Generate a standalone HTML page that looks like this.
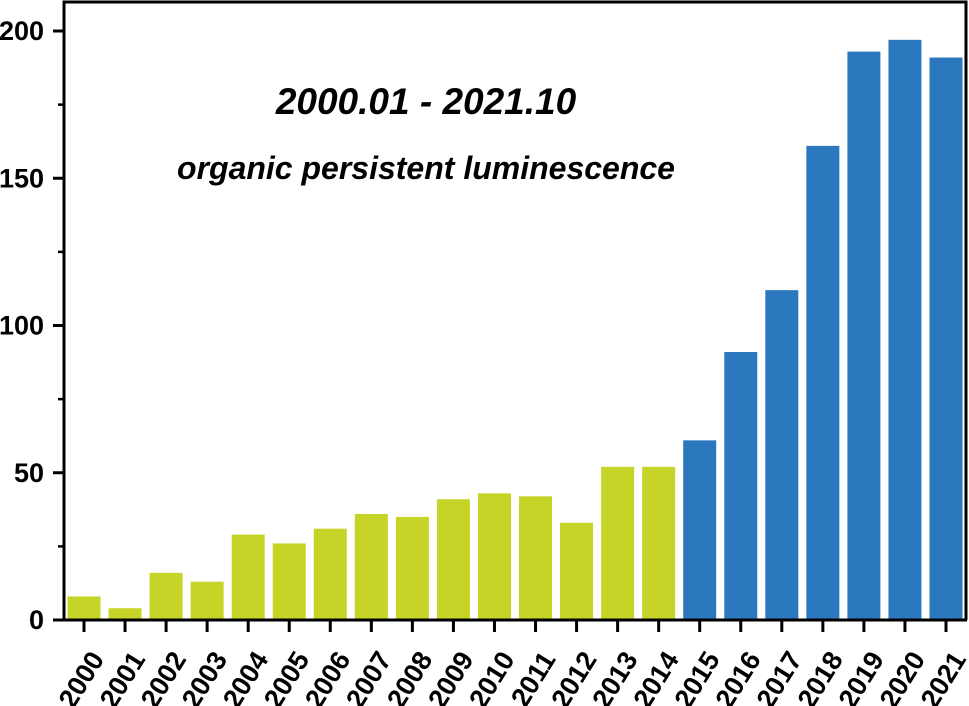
<!DOCTYPE html>
<html><head><meta charset="utf-8"><style>
html,body{margin:0;padding:0;background:#fff;}
svg{display:block;font-family:"Liberation Sans",Arial,sans-serif;}
</style></head><body>
<svg id="chart" width="969" height="706" viewBox="0 0 969 706">
<text x="426" y="114" font-size="37" font-weight="bold" font-style="italic" text-anchor="middle">2000.01 - 2021.10</text>
<text x="426" y="179" font-size="32" font-weight="bold" font-style="italic" text-anchor="middle">organic persistent luminescence</text>
<g id="bars"></g>
<g id="axes"></g>
</svg>
<script>
const years = ["2000","2001","2002","2003","2004","2005","2006","2007","2008","2009","2010","2011","2012","2013","2014","2015","2016","2017","2018","2019","2020","2021"];
const counts = [8,4,16,13,29,26,31,36,35,41,43,42,33,52,52,61,91,112,161,193,197,191];
const yTicks = [0,50,100,150,200];
const yMinorTicks = [25,75,125,175];
const splitYear = "2015";

const NS = "http://www.w3.org/2000/svg";
const plotLeft = 64, plotRight = 966, plotTop = 2, y0 = 620, yMaxPx = 31, yMaxVal = 200;
const yScale = v => y0 - (v / yMaxVal) * (y0 - yMaxPx);
const firstC = 84, lastC = 946;
const step = (lastC - firstC) / (years.length - 1);
const xScale = i => firstC + i * step;
const bw = 33;
const barsG = document.getElementById('bars');
const axesG = document.getElementById('axes');
function mk(tag, attrs, parent){const e=document.createElementNS(NS,tag);for(const k in attrs)e.setAttribute(k,attrs[k]);parent.appendChild(e);return e;}

const splitIdx = years.indexOf(splitYear);
counts.forEach((v,i)=>{
  const r = mk('rect',{x:xScale(i)-bw/2,y:yScale(v),width:bw,height:y0-yScale(v),fill:i>=splitIdx?'#2b78bf':'#c5d426'},barsG);
  
  
});

const frame = mk('path',{d:`M${plotLeft},${y0} L${plotLeft},${plotTop} L${plotRight},${plotTop} L${plotRight},${y0}`,fill:'none',stroke:'#000','stroke-width':3},axesG);


const xAxis = mk('line',{x1:plotLeft-11,y1:y0,x2:plotRight+1,y2:y0,stroke:'#000','stroke-width':3},axesG);



yTicks.forEach(t=>{
  const y=yScale(t);
  const l=mk('line',{x1:plotLeft-11,y1:y,x2:plotLeft,y2:y,stroke:'#000','stroke-width':3},axesG);
  
  
  const tx=mk('text',{x:plotLeft-20,y:y+9,'font-size':27,'font-weight':'bold','text-anchor':'end'},axesG);
  tx.textContent=t;
  
  
});
yMinorTicks.forEach(t=>{
  const y=yScale(t);
  const l=mk('line',{x1:plotLeft-6,y1:y,x2:plotLeft,y2:y,stroke:'#000','stroke-width':2.5},axesG);
  
  
});
years.forEach((yr,i)=>{
  const x=xScale(i);
  const l=mk('line',{x1:x,y1:y0,x2:x,y2:y0+12,stroke:'#000','stroke-width':3},axesG);
  
  
  const ax=x+21, ay=y0+39;
  const tx=mk('text',{x:ax,y:ay,'font-size':27,'font-weight':'bold','text-anchor':'end',transform:`rotate(-58 ${ax} ${ay})`},axesG);
  tx.textContent=yr;
  
  
});
</script>
</body></html>
